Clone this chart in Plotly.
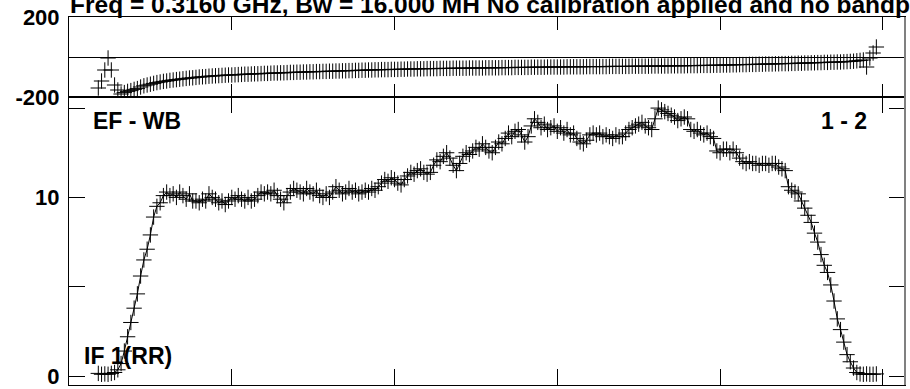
import plotly.graph_objects as go

# channel numbers (x) and the two measured series
CHANNELS = list(range(9, 249))

AMPLITUDE = [
    0.15, 0.10, 0.12, 0.10, 0.15, 0.20, 0.35, 0.70, 1.40, 2.20,          # 9-18
    3.0, 3.8, 4.6, 5.6, 6.5, 7.1, 7.9, 8.9, 9.5, 9.7,                      # 19-28
    10.1, 10.3, 10.1, 10.2, 10.0, 10.3, 10.1, 9.9, 10.2, 9.8,              # 29-38
    9.8, 9.7, 9.9, 9.8, 10.2, 10.0, 9.9, 9.7, 9.8, 9.6,                    # 39-48
    9.8, 10.0, 9.9, 10.1, 9.9, 9.8, 10.0, 9.8, 9.9, 10.1,                  # 49-58
    10.3, 10.2, 10.3, 10.2, 10.4, 10.1, 9.9, 9.7, 10.1, 10.3,              # 59-68
    10.5, 10.4, 10.3, 10.2, 10.5, 10.3, 10.2, 10.4, 10.1, 10.0,            # 69-78
    10.2, 10.0, 10.3, 10.6, 10.4, 10.2, 10.3, 10.5, 10.3, 10.4,            # 79-88
    10.2, 10.3, 10.4, 10.3, 10.5, 10.4, 10.6, 10.8, 11.0, 10.9,            # 89-98
    11.1, 11.0, 10.8, 10.7, 11.0, 11.2, 11.4, 11.3, 11.5, 11.6,            # 99-108
    11.4, 11.3, 11.4, 11.8, 12.1, 12.0, 12.3, 12.5, 12.2, 11.8,            # 109-118
    11.5, 11.9, 12.3, 12.5, 12.4, 12.6, 12.8, 12.7, 13.0, 12.8,            # 119-128
    12.6, 12.5, 12.8, 13.1, 13.0, 13.3, 13.6, 13.4, 13.7, 13.8,            # 129-138
    13.5, 13.1, 13.4, 14.0, 14.4, 14.2, 13.9, 14.1, 13.8, 13.9,            # 139-148
    14.0, 13.7, 13.9, 13.6, 13.8, 13.5, 13.6, 13.3, 13.1, 13.0,            # 149-158
    13.2, 13.5, 13.6, 13.5, 13.6, 13.4, 13.5, 13.4, 13.3, 13.5,            # 159-168
    13.4, 13.4, 13.6, 13.8, 13.9, 14.0, 14.1, 14.2, 14.0, 13.9,            # 169-178
    13.8, 14.4, 15.0, 14.9, 14.8, 14.7, 14.6, 14.5, 14.3, 14.4,            # 179-188
    14.5, 14.4, 13.8, 13.7, 13.8, 13.6, 13.5, 13.6, 13.4, 13.3,            # 189-198
    12.6, 12.5, 12.7, 12.7, 12.5, 12.7, 12.5, 12.2, 12.0, 11.9,            # 199-208
    12.0, 11.9, 11.9, 11.8, 11.9, 11.9, 11.8, 11.9, 11.9, 11.7,            # 209-218
    11.6, 11.5, 10.6, 10.4, 10.3, 10.2, 9.8, 9.4, 9.0, 8.6,                # 219-228
    8.0, 7.5, 6.8, 6.2, 5.8, 5.1, 4.2, 3.2, 2.6, 1.9,                      # 229-238
    1.2, 0.8, 0.45, 0.20, 0.12, 0.10, 0.12, 0.10, 0.10, 0.12,              # 239-248
]

PHASE = [
    -155, -120, -65, -5, -65, -140, -165, -185, -178, -172,                # 9-18
    -168, -162, -158, -150, -144, -140, -136, -132, -128, -125,            # 19-28
    -122, -120, -117, -115, -113, -111, -109, -107, -105, -104,            # 29-38
    -102, -100, -99, -98, -96, -95, -94, -93, -92, -91,                    # 39-48
    -90, -90, -89, -88, -87, -86, -86, -85, -84, -84,                      # 49-58
    -83, -82, -82, -81, -80, -80, -79, -79, -78, -77,                      # 59-68
    -77, -76, -76, -75, -75, -74, -74, -73, -73, -72,                      # 69-78
    -72, -71, -71, -70, -70, -69, -69, -68, -68, -67,                      # 79-88
    -67, -66, -66, -65, -65, -64, -64, -63, -63, -63,                      # 89-98
    -62, -62, -62, -61, -61, -60, -60, -60, -59, -59,                      # 99-108
    -59, -58, -58, -58, -58, -57, -57, -57, -57, -56,                      # 109-118
    -56, -56, -56, -56, -55, -55, -55, -55, -55, -54,                      # 119-128
    -54, -54, -54, -54, -53, -53, -53, -53, -52, -52,                      # 129-138
    -52, -52, -52, -51, -51, -51, -51, -51, -50, -50,                      # 139-148
    -50, -50, -50, -50, -49, -49, -49, -49, -49, -49,                      # 149-158
    -48, -48, -48, -48, -48, -48, -48, -47, -47, -47,                      # 159-168
    -47, -47, -47, -47, -46, -46, -46, -46, -46, -46,                      # 169-178
    -45, -45, -45, -45, -45, -45, -44, -44, -44, -44,                      # 179-188
    -44, -43, -43, -43, -43, -42, -42, -42, -42, -41,                      # 189-198
    -41, -41, -40, -40, -40, -39, -39, -38, -38, -38,                      # 199-208
    -37, -37, -37, -36, -36, -35, -35, -35, -34, -34,                      # 209-218
    -33, -33, -33, -32, -32, -31, -31, -30, -30, -29,                      # 219-228
    -29, -28, -28, -27, -27, -26, -26, -25, -25, -24,                      # 229-238
    -23, -22, -21, -19, -17, -15, -50, -5, 20, 50,                         # 239-248
]

AMP_TICKS = [0, 5, 10, 15]
AMP_TICKTEXT = ["0", "", "10", ""]
PHASE_TICKS = [-200, 200]
PHASE_TICKTEXT = ["-200", "200"]
CHAN_TICKS = [50, 100, 150, 200, 250]

TITLE = "Freq = 0.3160 GHz, Bw = 16.000 MH No calibration applied and no bandpass applied"
BASELINE_LABEL = "EF - WB"
POL_LABEL = "IF 1(RR)"
PAIR_LABEL = "1 - 2"

FONT = "Liberation Sans"
mk = dict(symbol="cross-thin-open", size=11, line=dict(width=1, color="black"), color="black")

fig = go.Figure()
fig.add_trace(go.Scatter(x=CHANNELS, y=AMPLITUDE, mode="lines+markers",
                         line=dict(color="black", width=1), marker=mk,
                         xaxis="x", yaxis="y", showlegend=False))
fig.add_trace(go.Scatter(x=CHANNELS, y=PHASE, mode="markers", marker=mk,
                         xaxis="x2", yaxis="y2", showlegend=False))

tick_font = dict(family=FONT, size=22, color="black", weight="bold")
lab_font = dict(family=FONT, size=23, color="black", weight="bold")
split = 288 / 368

xcommon = dict(range=[0, 256.8], tickvals=CHAN_TICKS, showticklabels=False,
               ticks="inside", mirror="ticks", showline=True, linecolor="black",
               linewidth=1, tickcolor="black", showgrid=False, zeroline=False,
               automargin=False)
ycommon = dict(ticks="inside", mirror="ticks", showline=True, linecolor="black",
               tickcolor="black", showgrid=False, tickfont=tick_font,
               ticklabelstandoff=4, automargin=False)

fig.update_layout(
    width=910, height=389,
    margin=dict(l=69, r=5, t=17, b=4),
    plot_bgcolor="white", paper_bgcolor="white",
    xaxis=dict(xcommon, anchor="y", ticklen=16),
    xaxis2=dict(xcommon, anchor="y2", ticklen=13, matches="x"),
    yaxis=dict(ycommon, domain=[0, split], range=[-0.5, 15.62], tickvals=AMP_TICKS,
               ticktext=AMP_TICKTEXT, ticklen=16, zeroline=False),
    yaxis2=dict(ycommon, domain=[split, 1], range=[-200, 200], tickvals=PHASE_TICKS,
                ticktext=PHASE_TICKTEXT, ticklen=15, zeroline=True,
                zerolinecolor="black", zerolinewidth=1),
    shapes=[dict(type="line", xref="paper", yref="paper", x0=1, x1=1, y0=0, y1=1,
                 line=dict(color="#808080", width=2))],
    annotations=[
        dict(text=TITLE, xref="paper", yref="paper", x=-0.001, y=1, xanchor="left",
             yanchor="bottom", showarrow=False, yshift=-3,
             font=dict(family=FONT, size=24.5, color="black", weight="bold")),
        dict(text=BASELINE_LABEL, xref="paper", yref="paper", x=0.026, y=split,
             xanchor="left", yanchor="middle", yshift=-24, showarrow=False, font=lab_font),
        dict(text=PAIR_LABEL, xref="paper", yref="paper", x=0.957, y=split,
             xanchor="right", yanchor="middle", yshift=-24, showarrow=False, font=lab_font),
        dict(text=POL_LABEL, xref="paper", yref="paper", x=0.015, y=0,
             xanchor="left", yanchor="middle", yshift=29, showarrow=False, font=lab_font),
    ],
)

# page body margin would shift the figure by 8px
fig.write_html("out.html", config={"displayModeBar": False},
               post_script="document.body.style.margin='0px';")
